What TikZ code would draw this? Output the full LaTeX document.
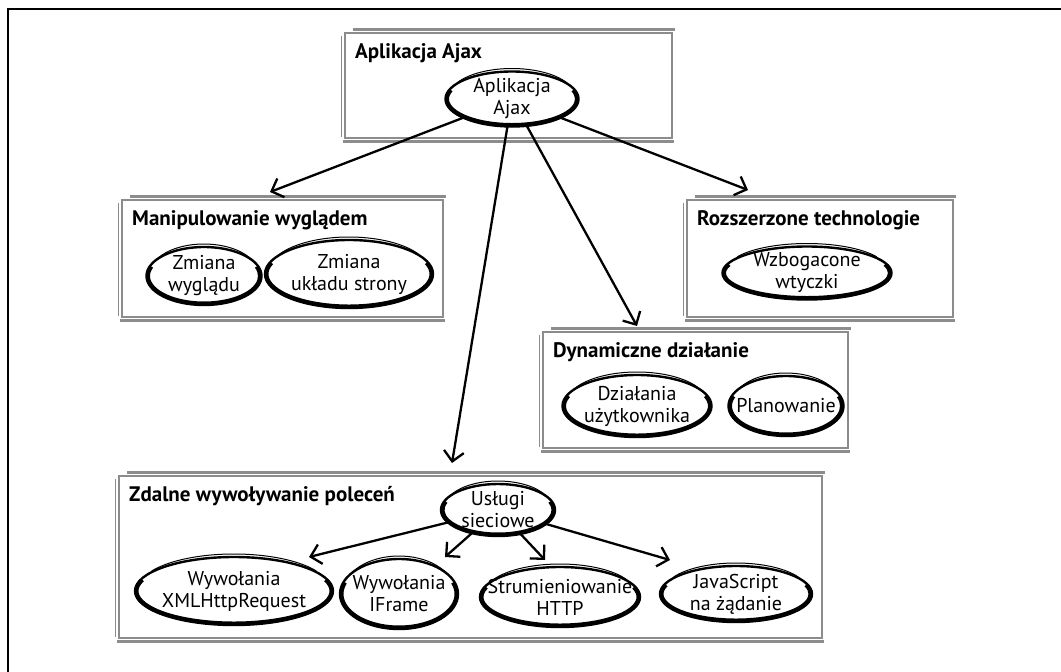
\documentclass[tikz,border=0pt]{standalone}
\usepackage{fontspec}
\setmainfont{PT Sans}
\usetikzlibrary{arrows.meta,shapes.geometric}
\definecolor{boxgray}{RGB}{140,140,140}
\tikzset{
  ovalbase/.style={ellipse, draw=black, line width=2.4pt, inner sep=0pt, outer sep=0pt, fill=white},
  ovaltext/.style={align=center, font=\fontsize{20}{22}\selectfont, inner sep=0pt},
  titletext/.style={anchor=base west, font=\fontsize{21}{24}\selectfont\bfseries, inner sep=0pt},
  conn/.style={line width=2.3pt, -{Straight Barb[length=10pt,width=20pt]}},
  boxline/.style={draw=boxgray, line width=2.4pt},
  frameline/.style={draw=black, line width=2.2pt},
}
% #1 name, #2 x1, #3 y1 (top), #4 x2, #5 y2 (bottom), #6 title
\newcommand\grbox[6]{%
  \draw[boxline] (#2,#3) rectangle (#4,#5);
  \draw[draw=boxgray, line width=3.4pt] (#2+8,#3+3.5) -- (#4+3,#3+3.5);
  \draw[draw=boxgray, line width=1.4pt] (#2-3.5,#3-3) -- (#2-3.5,#5+1);
  \draw[draw=boxgray, line width=3pt] (#2-2,#5-3) -- (#4+2,#5-3);
  \node[titletext] (#1) at (#2+10,#3-25) {#6};
}
% #1 name, #2 x, #3 y, #4 w, #5 h, #6 text
\newcommand\sketchoval[6]{%
  \node[ovalbase, minimum width=#4pt, minimum height=#5pt] (#1) at (#2,#3) {};
  \draw[line width=4pt] (#2,#3) ++({(#4/2-1.5)*cos(160)},{(#5/2-1.5)*sin(160)})
     arc[start angle=160, end angle=380, x radius=#4/2-1.5, y radius=#5/2-1.5];
  \draw[line width=1pt] (#2,#3+3) ++({(#4/2-4)*cos(30)},{(#5/2)*sin(30)})
     arc[start angle=30, end angle=150, x radius=#4/2-4, y radius=#5/2];
  \node[ovaltext] (#1t) at (#1) {#6};
}
\begin{document}
\begin{tikzpicture}[x=1pt,y=1pt]
\useasboundingbox (0,0) rectangle (1061,-672);
\draw[frameline] (8,-672) -- (8,-9) -- (1061,-9);

\grbox{b1}{345}{-33}{672}{-138}{Aplikacja Ajax}
\grbox{b2}{122}{-200}{443}{-317}{Manipulowanie wyglądem}
\grbox{b3}{687}{-200}{953}{-317}{Rozszerzone technologie}
\grbox{b4}{543}{-332}{848}{-448}{Dynamiczne działanie}
\grbox{b5}{119}{-476}{822}{-638}{Zdalne wywoływanie poleceń}

\sketchoval{e0}{512}{-99}{133}{55}{Aplikacja\\Ajax}
\sketchoval{e1}{204}{-276}{115}{58}{Zmiana\\wyglądu}
\sketchoval{e2}{349}{-274}{168}{68}{Zmiana\\układu strony}
\sketchoval{e3}{807}{-273}{169}{53}{Wzbogacone\\wtyczki}
\sketchoval{e4}{637}{-406}{149}{62}{Działania\\użytkownika}
\sketchoval{e5}{786}{-406}{115}{60}{Planowanie}
\sketchoval{e6}{498}{-510}{114}{52}{Usługi\\sieciowe}
\sketchoval{e7}{234}{-591}{198}{68}{Wywołania\\XMLHttpRequest}
\sketchoval{e8}{399}{-594}{118}{70}{Wywołania\\IFrame}
\sketchoval{e9}{560}{-597}{160}{60}{Strumieniowanie\\HTTP}
\sketchoval{e10}{736}{-594}{152}{56}{JavaScript\\na żądanie}

\coordinate (t2) at (270,-192);
\coordinate (t3) at (748,-190);
\coordinate (t4) at (637,-326);
\coordinate (t5) at (452,-463);
\coordinate (c7) at (309,-557);
\coordinate (c8) at (445,-557);
\coordinate (c9) at (545,-560);
\coordinate (c10) at (670,-560);

\draw[conn] (e0) -- (t2);
\draw[conn] (e0) -- (t3);
\draw[conn] (e0) -- (t4);
\draw[conn] (e0) -- (t5);
\draw[conn] (e6) -- (c7);
\draw[conn] (e6) -- (c8);
\draw[conn] (e6) -- (c9);
\draw[conn] (e6) -- (c10);
\end{tikzpicture}
\end{document}
